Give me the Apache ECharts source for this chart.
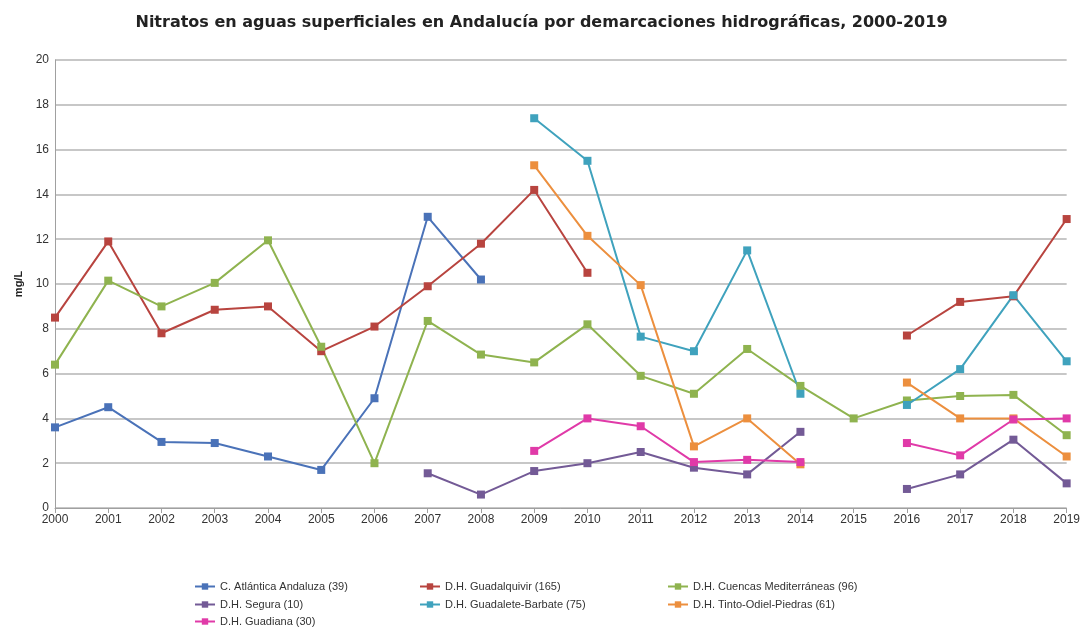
<!DOCTYPE html>
<html>
<head>
<meta charset="utf-8">
<script src="https://cdn.jsdelivr.net/npm/echarts@6/dist/echarts.min.js"></script>
<style>
  html, body { margin: 0; padding: 0; background: #fff; }
  #chart-panel { width: 1083px; height: 627px; }
</style>
</head>
<body>
<div id="chart-panel"></div>
<script>
// years on the x axis
const years = ["2000", "2001", "2002", "2003", "2004", "2005", "2006", "2007", "2008", "2009",
  "2010", "2011", "2012", "2013", "2014", "2015", "2016", "2017", "2018", "2019"]

const atlantica = [3.6, 4.5, 2.95, 2.9, 2.3, 1.7, 4.9, 13.0, 10.2, null,
  null, null, null, null, null, null, null, null, null, null]
const guadalquivir = [8.5, 11.9, 7.8, 8.85, 9.0, 7.0, 8.1, 9.9, 11.8, 14.2,
  10.5, null, null, null, null, null, 7.7, 9.2, 9.45, 12.9]
const mediterraneas = [6.4, 10.15, 9.0, 10.05, 11.95, 7.2, 2.0, 8.35, 6.85, 6.5,
  8.2, 5.9, 5.1, 7.1, 5.45, 4.0, 4.8, 5.0, 5.05, 3.25]
const segura = [null, null, null, null, null, null, null, 1.55, 0.6, 1.65,
  2.0, 2.5, 1.8, 1.5, 3.4, null, 0.85, 1.5, 3.05, 1.1]
const guadalete = [null, null, null, null, null, null, null, null, null, 17.4,
  15.5, 7.65, 7.0, 11.5, 5.1, null, 4.6, 6.2, 9.5, 6.55]
const tinto = [null, null, null, null, null, null, null, null, null, 15.3,
  12.15, 9.95, 2.75, 4.0, 1.95, null, 5.6, 4.0, 4.0, 2.3]
const guadiana = [null, null, null, null, null, null, null, null, null, 2.55,
  4.0, 3.65, 2.05, 2.15, 2.05, null, 2.9, 2.35, 3.95, 4.0]

const seriesList = [
  { name: "C. Atlántica Andaluza (39)", data: atlantica, color: "#4a72b8" },
  { name: "D.H. Guadalquivir (165)", data: guadalquivir, color: "#b8443f" },
  { name: "D.H. Cuencas Mediterráneas (96)", data: mediterraneas, color: "#8fb34f" },
  { name: "D.H. Segura (10)", data: segura, color: "#735a96" },
  { name: "D.H. Guadalete-Barbate (75)", data: guadalete, color: "#3fa2bd" },
  { name: "D.H. Tinto-Odiel-Piedras (61)", data: tinto, color: "#ec8f3e" },
  { name: "D.H. Guadiana (30)", data: guadiana, color: "#e03aa8" }
]
// legend slots: column left edge and row top for each series, in order
const legendCols = [189, 414, 662, 189, 414, 662, 189]
const legendRows = [576, 576, 576, 594, 594, 594, 611]

const chart = echarts.init(document.getElementById("chart-panel"))
const font = "'Liberation Sans', Arial, sans-serif"

const options = {
  animation: false,
  textStyle: { fontFamily: font },
  title: {
    text: "Nitratos en aguas superficiales en Andalucía por demarcaciones hidrográficas, 2000-2019",
    left: "center",
    top: 10,
    textStyle: { fontFamily: "'DejaVu Sans', sans-serif", fontSize: 16, fontWeight: "bold", color: "#222" }
  },
  legend: seriesList.map((s, i) => ({
    left: legendCols[i],
    top: legendRows[i],
    itemWidth: 20,
    itemHeight: 8,
    data: [s.name],
    textStyle: { fontFamily: font, fontSize: 11, color: "#333" }
  })),
  grid: {
    left: 55,
    right: 15,
    top: 60,
    bottom: 119
  },
  xAxis: {
    type: "category",
    data: years,
    boundaryGap: false,
    axisLine: { show: true, lineStyle: { color: "#a0a0a0", width: 1 } },
    axisTick: { show: true, length: 5, lineStyle: { color: "#a0a0a0" } },
    axisLabel: { color: "#333", fontSize: 12, margin: 6, interval: 0 }
  },
  yAxis: {
    type: "value",
    min: 0,
    max: 20,
    interval: 2,
    name: "mg/L",
    nameLocation: "middle",
    nameGap: 30,
    nameRotate: 90,
    nameTextStyle: { fontSize: 11, fontWeight: "bold", color: "#222" },
    axisLine: { show: true, lineStyle: { color: "#a0a0a0" } },
    axisTick: { show: false },
    axisLabel: { color: "#333", fontSize: 12, margin: 6 },
    splitLine: { show: true, lineStyle: { color: "#b4b4b4", width: 1.5 } }
  },
  series: seriesList.map((s) => ({
    name: s.name,
    type: "line",
    data: s.data,
    symbol: "rect",
    symbolSize: 8,
    connectNulls: false,
    lineStyle: { color: s.color, width: 2 },
    itemStyle: { color: s.color }
  }))
}
chart.setOption(options)
</script>
</body>
</html>
